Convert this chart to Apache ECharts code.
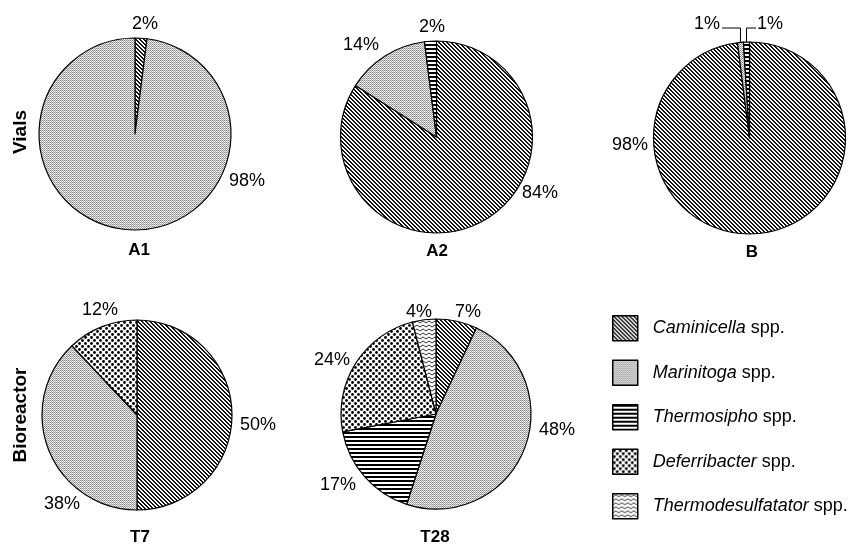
<!DOCTYPE html>
<html><head><meta charset="utf-8">
<script src="https://cdn.jsdelivr.net/npm/echarts@6/dist/echarts.min.js"></script>
<style>html,body{margin:0;padding:0;background:#fff}#c{width:857px;height:546px}</style>
</head><body><div id="c"></div>
<script>
// ---- data ----
const taxa = ['Caminicella', 'Marinitoga', 'Thermosipho', 'Deferribacter', 'Thermodesulfatator'];
const samples = ['A1', 'A2', 'B', 'T7', 'T28'];
const valuesA1  = [2, 98, 0, 0, 0];
const valuesA2  = [84, 14, 2, 0, 0];
const valuesB   = [98, 1, 1, 0, 0];
const valuesT7  = [50, 38, 0, 12, 0];
const valuesT28 = [7, 48, 17, 24, 4];
const rowLabels = ['Vials', 'Bioreactor'];
const legendSuffix = 'spp.';

// ---- styles / layout ----
const FONT = '"Liberation Sans", Arial, sans-serif';
function makeTile(w, h, draw) {
  const c = document.createElement('canvas'); c.width = w; c.height = h;
  const g = c.getContext('2d'); g.fillStyle = '#fff'; g.fillRect(0, 0, w, h); draw(g);
  return { image: c, repeat: 'repeat' };
}
const patterns = {
  Caminicella: makeTile(4, 4, g => { g.fillStyle = '#111'; for (let y = 0; y < 4; y++) { g.fillRect(y % 4, y, 1, 1); g.fillRect((y + 1) % 4, y, 1, 1); } }),
  Marinitoga: makeTile(2, 2, g => { g.fillStyle = '#888'; g.fillRect(0, 0, 1, 1); g.fillStyle = '#aaa'; g.fillRect(1, 1, 1, 1); g.fillStyle = '#ddd'; g.fillRect(1, 0, 1, 1); }),
  Thermosipho: makeTile(1, 4, g => { g.fillStyle = '#000'; g.fillRect(0, 0, 1, 2); }),
  Deferribacter: makeTile(6, 6, g => { g.fillStyle = '#000'; g.beginPath(); g.arc(1.5, 1.5, 1.4, 0, 7); g.fill(); g.beginPath(); g.arc(4.5, 4.5, 1.4, 0, 7); g.fill(); }),
  Thermodesulfatator: makeTile(6, 4, g => { g.strokeStyle = '#333'; g.lineWidth = 1; g.beginPath(); g.moveTo(0, 3); g.lineTo(3, 1); g.lineTo(6, 3); g.stroke(); })
};

const pieCfg = {
  A1:  { values: valuesA1,  c: [135, 134], r: 96, title: [139, 250],
         labels: { Caminicella: [10, -110], Marinitoga: [112, 47] } },
  A2:  { values: valuesA2,  c: [436.5, 137], r: 96, title: [437, 251],
         labels: { Caminicella: [103.5, 56], Marinitoga: [-75.5, -92], Thermosipho: [-4.5, -110] } },
  B:   { values: valuesB,   c: [749.5, 138], r: 96, title: [752, 252],
         labels: { Caminicella: [-119.5, 7], Marinitoga: [-42.5, -114], Thermosipho: [20.5, -114] },
         leaders: { Marinitoga: 'right', Thermosipho: 'left' } },
  T7:  { values: valuesT7,  c: [137, 415], r: 95, title: [140, 537],
         labels: { Caminicella: [121, 10], Marinitoga: [-75, 89], Deferribacter: [-37, -105] } },
  T28: { values: valuesT28, c: [436, 414], r: 95, title: [435, 537],
         labels: { Caminicella: [32, -102], Marinitoga: [121, 16], Thermosipho: [-98, 71], Deferribacter: [-104, -54], Thermodesulfatator: [-17, -102] } }
};
const rowLabelPos = [[21, 132], [21, 415]];

const series = samples.map(s => {
  const cfg = pieCfg[s];
  const data = [];
  cfg.values.forEach((v, i) => {
    if (v > 0) {
      const name = taxa[i];
      const item = { name: name, value: v, itemStyle: { color: patterns[name] } };
      if (cfg.leaders && cfg.leaders[name]) item.labelLine = { show: true, lineStyle: { color: '#000', width: 1 } };
      data.push(item);
    }
  });
  const total = data.reduce((a, d) => a + d.value, 0);
  return {
    type: 'pie', name: s, center: cfg.c, radius: cfg.r, startAngle: 90, clockwise: true,
    avoidLabelOverlap: false, animation: false, silent: true,
    itemStyle: { borderColor: '#000', borderWidth: 1.2 },
    label: { show: true, position: 'outside', formatter: '{c}%', fontSize: 18, fontFamily: FONT, color: '#000' },
    labelLine: { show: false },
    emphasis: { disabled: true },
    data: data,
    labelLayout: function (p) {
      const item = data[p.dataIndex];
      const off = cfg.labels[item.name];
      const x = cfg.c[0] + off[0], y = cfg.c[1] + off[1];
      const res = { x: x, y: y, align: 'center', verticalAlign: 'middle' };
      if (cfg.leaders && cfg.leaders[item.name]) {
        let cum = 0;
        for (let k = 0; k < p.dataIndex; k++) cum += data[k].value;
        const a = (cum + item.value / 2) / total * 2 * Math.PI;
        const sx = cfg.c[0] + cfg.r * Math.sin(a), sy = cfg.c[1] - cfg.r * Math.cos(a);
        const w = p.labelRect.width;
        const ly = y + 4;
        const ex = cfg.leaders[item.name] === 'right' ? x + w / 2 + 2 : x - w / 2 - 1;
        res.labelLinePoints = [[ex, ly], [sx, ly], [sx, sy]];
      }
      return res;
    }
  };
});

const graphics = [];
samples.forEach(s => {
  const t = pieCfg[s].title;
  graphics.push({ type: 'text', x: t[0], y: t[1], silent: true,
    style: { text: s, font: 'bold 17px ' + FONT, fill: '#000', align: 'center', verticalAlign: 'middle', textAlign: 'center', textVerticalAlign: 'middle' } });
});
rowLabels.forEach((r, i) => {
  graphics.push({ type: 'text', x: rowLabelPos[i][0], y: rowLabelPos[i][1], rotation: Math.PI / 2, silent: true,
    style: { text: r, font: 'bold 19px ' + FONT, fill: '#000', align: 'center', verticalAlign: 'middle', textAlign: 'center', textVerticalAlign: 'middle' } });
});

const chart = echarts.init(document.getElementById('c'), null, { renderer: 'canvas' });
chart.setOption({
  backgroundColor: '#fff',
  animation: false,
  legend: {
    orient: 'vertical', left: 607, top: 310, itemWidth: 25, itemHeight: 25, itemGap: 18,
    selectedMode: false, data: taxa, icon: 'rect',
    itemStyle: { borderColor: '#000', borderWidth: 1.5 },
    formatter: n => '{i|' + n + '} ' + legendSuffix,
    textStyle: { fontSize: 18, lineHeight: 20, fontFamily: FONT, color: '#000', padding: [0, 0, 0, 10],
      rich: { i: { fontStyle: 'italic', fontSize: 18, lineHeight: 20, fontFamily: FONT, color: '#000' } } }
  },
  graphic: graphics,
  series: series
});
</script>
</body></html>
